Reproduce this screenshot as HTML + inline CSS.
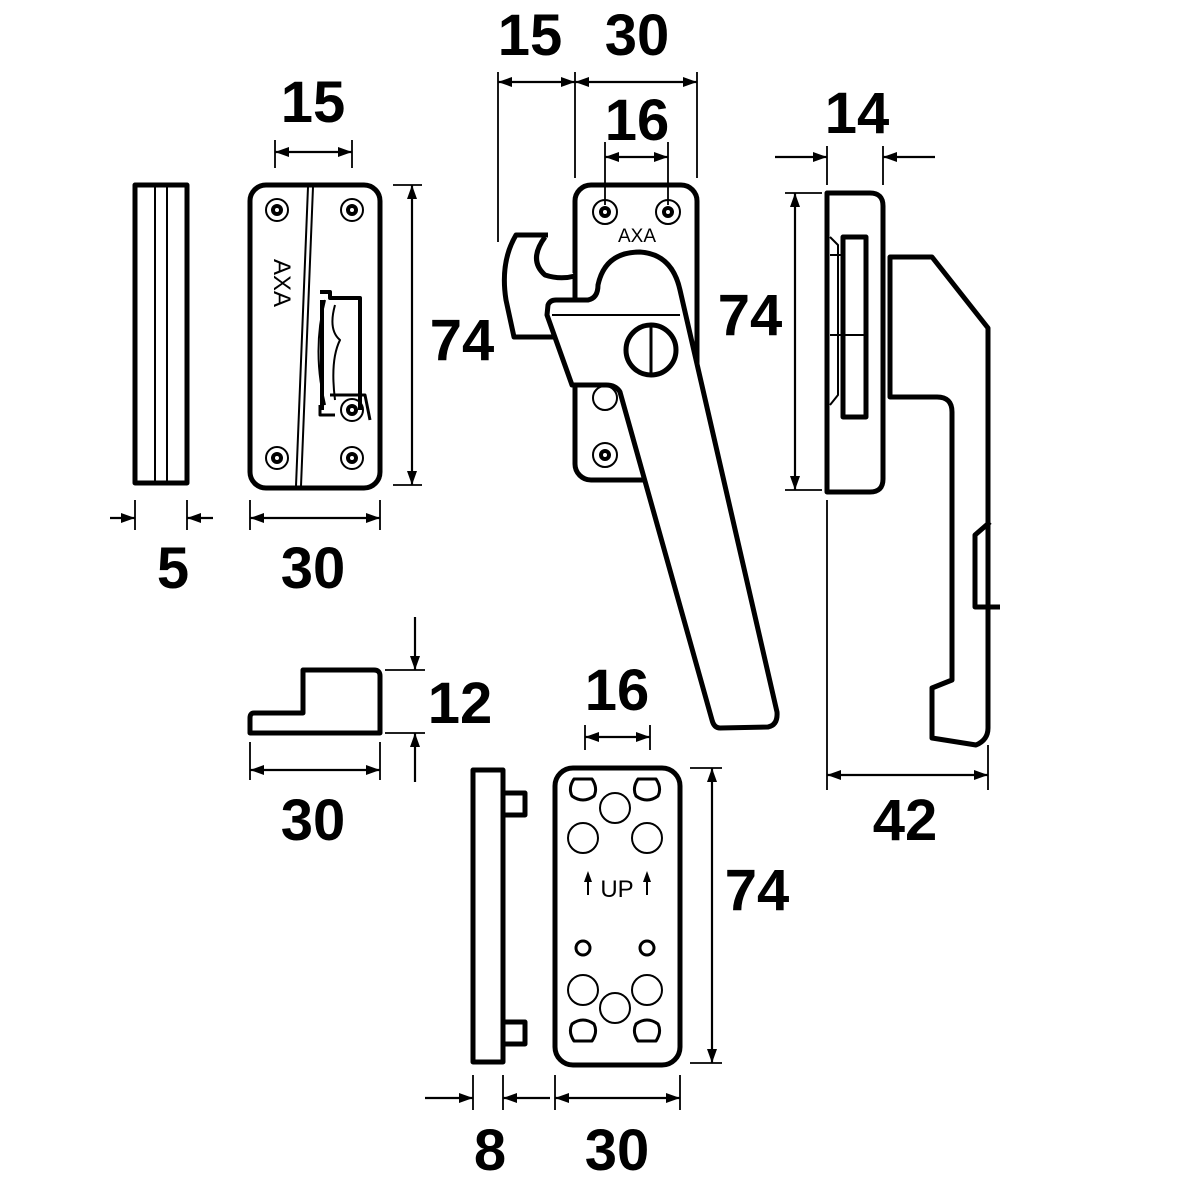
<!DOCTYPE html>
<html><head><meta charset="utf-8"><style>html,body{margin:0;padding:0;background:#fff}svg{display:block}</style></head><body>
<svg width="1181" height="1181" viewBox="0 0 1181 1181" xmlns="http://www.w3.org/2000/svg">
<defs>
<marker id="a" markerWidth="14" markerHeight="10" refX="14" refY="5" orient="auto-start-reverse" markerUnits="userSpaceOnUse"><path d="M0,0 L14,5 L0,10 Z" fill="#000"/></marker>
</defs>
<g fill="none" stroke="#000" stroke-width="1.8">
<path d="M135,500V530M187,500V530M250,500V530M380,500V530M275,140V168M352,140V168M393,185H422M393,485H422"/>
<path d="M498,72V242M575,72V178M697,72V178M605,142V205M668,142V205M827,146V185M883,146V185M785,193H822M785,490H822M827,500V790M988,745V790"/>
<path d="M385,670H425M385,733H425M250,742V780M380,742V780M585,725V750M650,725V750M473,1075V1110M503,1075V1110M555,1075V1110M680,1075V1110M690,768H722M690,1063H722"/>
</g>
<g fill="none" stroke="#000" stroke-width="2.2" marker-end="url(#a)">
<path d="M110,518H135"/><path d="M213,518H187"/>
<path d="M275,152H352" marker-start="url(#a)"/>
<path d="M250,518H380" marker-start="url(#a)"/>
<path d="M412,185V485" marker-start="url(#a)"/>
<path d="M498,82H575" marker-start="url(#a)"/>
<path d="M575,82H697" marker-start="url(#a)"/>
<path d="M605,157H668" marker-start="url(#a)"/>
<path d="M775,157H827"/><path d="M935,157H883"/>
<path d="M795,193V490" marker-start="url(#a)"/>
<path d="M827,775H988" marker-start="url(#a)"/>
<path d="M415,617V670"/><path d="M415,782V733"/>
<path d="M250,770H380" marker-start="url(#a)"/>
<path d="M585,737H650" marker-start="url(#a)"/>
<path d="M712,768V1063" marker-start="url(#a)"/>
<path d="M425,1098H473"/><path d="M550,1098H503"/>
<path d="M555,1098H680" marker-start="url(#a)"/>
</g>
<g font-family="Liberation Sans, sans-serif" font-weight="bold" font-size="58" text-anchor="middle" fill="#000">
<text x="313" y="122">15</text><text x="462" y="360">74</text><text x="173" y="588">5</text><text x="313" y="588">30</text>
<text x="530" y="55">15</text><text x="637" y="55">30</text><text x="637" y="140">16</text><text x="750" y="335">74</text>
<text x="857" y="133">14</text><text x="905" y="840">42</text>
<text x="460" y="723">12</text><text x="313" y="840">30</text><text x="617" y="710">16</text><text x="757" y="910">74</text>
<text x="490" y="1170">8</text><text x="617" y="1170">30</text>
</g>
<g fill="none" stroke="#000" stroke-width="5" stroke-linejoin="round">
<rect x="135" y="185" width="52" height="298"/>
<path d="M155,187V481M167,187V481" stroke-width="2"/>
<rect x="250" y="185" width="130" height="303" rx="16"/>
<path d="M308,187L296,486M313,187L301,486" stroke-width="2"/>
<path d="M320,292H330V298H360V410M322,410V300" stroke-width="4"/>
<path d="M325,300Q312,350 325,405M335,305Q328,330 340,340Q330,360 335,400" stroke-width="2"/>
<path d="M320,405V415H335M330,395H365L370,420" stroke-width="3"/>
<g stroke-width="2"><circle cx="277" cy="210" r="11"/><circle cx="352" cy="210" r="11"/><circle cx="277" cy="458" r="11"/><circle cx="352" cy="458" r="11"/><circle cx="352" cy="410" r="11"/></g>
<g stroke-width="4"><circle cx="277" cy="210" r="4"/><circle cx="352" cy="210" r="4"/><circle cx="277" cy="458" r="4"/><circle cx="352" cy="458" r="4"/><circle cx="352" cy="410" r="4"/></g>
<rect x="575" y="185" width="122" height="295" rx="16"/>
<g stroke-width="2"><circle cx="605" cy="212" r="12"/><circle cx="668" cy="212" r="12"/><circle cx="605" cy="398" r="12"/><circle cx="605" cy="455" r="12"/></g>
<g stroke-width="4"><circle cx="605" cy="212" r="4"/><circle cx="668" cy="212" r="4"/><circle cx="605" cy="455" r="4"/></g>
<path d="M548,235H516Q500,262 506,300L514,337H555M545,237Q528,260 545,275Q560,280 575,276" fill="#fff"/>
<path d="M548,305Q550,300 556,300H588Q598,298 598,285Q605,252 640,252Q672,254 680,290L777,712Q778,725 768,727L720,728Q714,728 712,720L620,392Q616,385 606,385H572L547,315Z" fill="#fff"/>
<path d="M552,315H680" stroke-width="2"/>
<circle cx="651" cy="350" r="25" fill="#fff"/>
<path d="M651,325V375" stroke-width="3"/>
<path d="M827,193H870Q883,193 883,206V479Q883,492 870,492H827Z"/>
<path d="M843,237H866V417H843Z" stroke-width="5"/>
<path d="M830,255H843M830,335H866M830,237L838,245V395L830,405" stroke-width="2"/>
<path d="M890,257H932L988,328V728Q988,740 976,745L932,738V688L952,680V412Q952,397 937,397H890Z"/>
<path d="M990,522L975,535V607H1000" stroke-width="5"/>
<path d="M250,733H380V676Q380,670 374,670H303V713H254Q250,713 250,718Z"/>
<rect x="473" y="770" width="30" height="292"/>
<rect x="503" y="793" width="22" height="22"/><rect x="503" y="1022" width="22" height="22"/>
<rect x="555" y="768" width="125" height="297" rx="18"/>
<g stroke-width="2"><circle cx="615" cy="808" r="15"/><circle cx="583" cy="838" r="15"/><circle cx="647" cy="838" r="15"/><circle cx="583" cy="990" r="15"/><circle cx="647" cy="990" r="15"/><circle cx="615" cy="1008" r="15"/></g>
<circle cx="583" cy="948" r="7" stroke-width="3"/><circle cx="647" cy="948" r="7" stroke-width="3"/>
<g stroke-width="3">
<path d="M574,779H592Q598,788 594,796Q583,804 572,796Q568,788 574,779Z"/>
<path d="M638,779H656Q662,788 658,796Q647,804 636,796Q632,788 638,779Z"/>
<path d="M574,1041H592Q598,1032 594,1024Q583,1016 572,1024Q568,1032 574,1041Z"/>
<path d="M638,1041H656Q662,1032 658,1024Q647,1016 636,1024Q632,1032 638,1041Z"/>
</g>
<path d="M588,895V880M647,895V880" stroke-width="2"/>
</g>
<path d="M584,882L588,871L592,882Z M643,882L647,871L651,882Z" fill="#000"/>
<g font-family="Liberation Sans, sans-serif" fill="#000" text-anchor="middle">
<text x="617" y="897" font-size="24">UP</text>
<text x="637" y="242" font-size="19">AXA</text>
<text x="0" y="0" font-size="24" transform="translate(274,283) rotate(90)">AXA</text>
</g>
</svg>
</body></html>
